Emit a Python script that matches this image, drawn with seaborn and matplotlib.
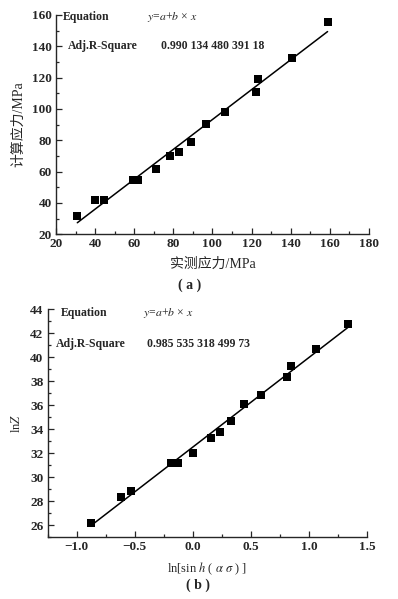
import numpy as np
import pandas as pd
import matplotlib
matplotlib.use("Agg")
import matplotlib.pyplot as plt
import seaborn as sns
from matplotlib.ticker import MultipleLocator

# --- datos (a) ---
measured_a = [30.9, 40.2, 44.5, 59.6, 62.1, 71.0, 78.4, 82.7, 89.3, 96.8,
              106.3, 122.4, 123.3, 140.9, 158.9]
calc_a = [31.7, 42.1, 42.1, 54.3, 54.7, 61.9, 69.8, 72.6, 78.9, 90.6,
          97.9, 111.1, 118.9, 132.3, 155.7]
r2_a = "0.990 134 480 391 18"

# --- datos (b) ---
lnsinh_b = [-0.875, -0.617, -0.534, -0.187, -0.129, -0.003, 0.155, 0.230,
            0.330, 0.436, 0.588, 0.812, 0.847, 1.062, 1.332]
lnz_b = [26.19, 28.39, 28.87, 31.23, 31.23, 32.04, 33.26, 33.76, 34.68,
         36.07, 36.82, 38.38, 39.30, 40.69, 42.77]
r2_b = "0.985 535 318 499 73"

sns.set_style("ticks")
plt.rcParams['font.family'] = ['Liberation Serif', 'Noto Sans CJK SC']
plt.rcParams['mathtext.fontset'] = 'stix'

fig = plt.figure(figsize=(3.98, 5.99), dpi=100)
ax1 = fig.add_axes([0.1407, 0.609, 0.786, 0.366])
ax2 = fig.add_axes([0.1198, 0.103, 0.803, 0.3806])

df_a = pd.DataFrame({"x": measured_a, "y": calc_a})
df_b = pd.DataFrame({"x": lnsinh_b, "y": lnz_b})

for ax, df in [(ax1, df_a), (ax2, df_b)]:
    sns.regplot(data=df, x="x", y="y", ax=ax, ci=None, truncate=True,
                marker="s", color="black",
                scatter_kws={"s": 28, "linewidths": 0, "alpha": 1, "zorder": 3},
                line_kws={"lw": 1.1})
    sns.despine(ax=ax)
    ax.tick_params(which="major", direction="in", length=4, width=0.9,
                   labelsize=9.5, pad=3)
    ax.tick_params(which="minor", direction="in", length=2.5, width=0.9)
    for lab in ax.get_xticklabels() + ax.get_yticklabels():
        lab.set_fontweight("bold")
    for s in ["left", "bottom"]:
        ax.spines[s].set_linewidth(1.0)

# --- (a) ---
ax1.set_xlim(20, 180)
ax1.set_ylim(20, 160)
ax1.xaxis.set_major_locator(MultipleLocator(20))
ax1.xaxis.set_minor_locator(MultipleLocator(10))
ax1.yaxis.set_major_locator(MultipleLocator(20))
ax1.yaxis.set_minor_locator(MultipleLocator(10))
ax1.set_xlabel("实测应力/MPa", fontsize=10, labelpad=5)
ax1.set_ylabel("计算应力/MPa", fontsize=10, labelpad=5)
ax1.text(0.022, 0.99, "Equation", transform=ax1.transAxes, fontsize=8.5,
         fontweight="bold", va="center")
ax1.text(0.29, 0.99, r"$y$=$a$+$b$ × $x$", transform=ax1.transAxes,
         fontsize=8.5, va="center")
ax1.text(0.038, 0.86, "Adj.R-Square", transform=ax1.transAxes, fontsize=8.5,
         fontweight="bold", va="center")
ax1.text(0.335, 0.86, r2_a, transform=ax1.transAxes, fontsize=8.5,
         fontweight="bold", va="center")
for lab in ax1.get_xticklabels() + ax1.get_yticklabels():
    lab.set_fontweight("bold")
fig.text(0.477, 1 - 285 / 599, "( a )", fontsize=10, fontweight="bold",
         ha="center", va="center")

# --- (b) ---
ax2.set_xlim(-1.25, 1.5)
ax2.set_ylim(25, 44)
ax2.xaxis.set_major_locator(MultipleLocator(0.5))
ax2.xaxis.set_minor_locator(MultipleLocator(0.25))
ax2.yaxis.set_major_locator(MultipleLocator(2))
ax2.yaxis.set_minor_locator(MultipleLocator(1))
ax2.xaxis.set_major_formatter(lambda v, p: f"{v:.1f}".replace("-", "−"))
ax2.set_xlabel(r"ln[sin $h$ ( $\alpha\ \sigma$ ) ]", fontsize=9, labelpad=5)
ax2.set_ylabel(r"ln$Z$", fontsize=9, labelpad=5)
ax2.text(0.04, 0.985, "Equation", transform=ax2.transAxes, fontsize=8.5,
         fontweight="bold", va="center")
ax2.text(0.298, 0.985, r"$y$=$a$+$b$ × $x$", transform=ax2.transAxes,
         fontsize=8.5, va="center")
ax2.text(0.025, 0.85, "Adj.R-Square", transform=ax2.transAxes, fontsize=8.5,
         fontweight="bold", va="center")
ax2.text(0.31, 0.85, r2_b, transform=ax2.transAxes, fontsize=8.5,
         fontweight="bold", va="center")
fig.canvas.draw()
for lab in ax2.get_xticklabels() + ax2.get_yticklabels():
    lab.set_fontweight("bold")
fig.text(0.497, 1 - 585 / 599, "( b )", fontsize=10, fontweight="bold",
         ha="center", va="center")

fig.savefig("out.png", dpi=100, facecolor="white")
